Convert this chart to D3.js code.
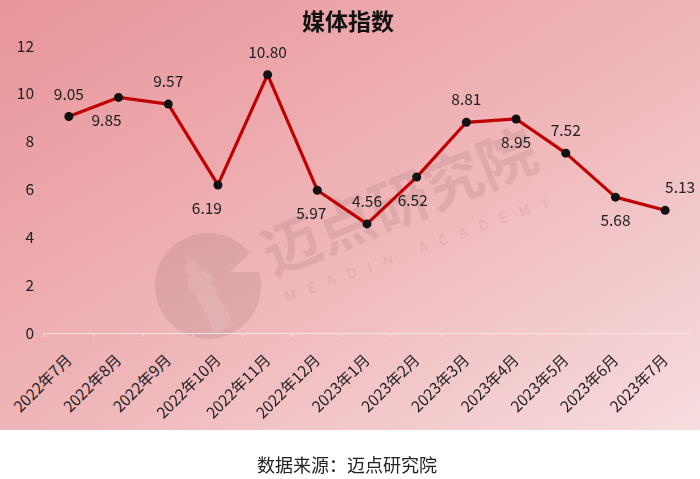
<!DOCTYPE html>
<html><head><meta charset="utf-8">
<script src="https://cdn.jsdelivr.net/npm/d3@7"></script>
<style>body{margin:0;background:#fff}svg{display:block}</style>
</head><body><svg id="c" width="700" height="479"></svg>
<script>
const title = "媒体指数";
const source = "数据来源：迈点研究院";
const categories = ["2022年7月","2022年8月","2022年9月","2022年10月","2022年11月","2022年12月","2023年1月","2023年2月","2023年3月","2023年4月","2023年5月","2023年6月","2023年7月"];
const values = [9.05,9.85,9.57,6.19,10.80,5.97,4.56,6.52,8.81,8.95,7.52,5.68,5.13];
const labelPlacement = ["above","below","above","below","above","below","above","below","above","below","above","below","above"];
const yTicks = [0,2,4,6,8,10,12];

const svg = d3.select("#c");
const font = "'Noto Sans CJK SC','Noto Sans',sans-serif";
const defs = svg.append("defs");
const g1 = defs.append("linearGradient").attr("id","bg").attr("x1","0").attr("y1","0").attr("x2","1").attr("y2","1");
g1.append("stop").attr("offset","0%").attr("stop-color","#e8959a");
g1.append("stop").attr("offset","55%").attr("stop-color","#f0b8bb");
g1.append("stop").attr("offset","100%").attr("stop-color","#f6dcde");
svg.append("rect").attr("x",0).attr("y",0).attr("width",700).attr("height",430).attr("fill","url(#bg)");

const x = d3.scaleBand().domain(categories).range([44,690]);
const y = d3.scaleLinear().domain([0,12]).range([333,46]);

// watermark
const wm = svg.append("g").attr("opacity",0.11).attr("fill","#5a3a3a");
const cx0 = 208, cy0 = 286, r0 = 53;
const toXY = a => [cx0 + r0*Math.sin(a*Math.PI/180), cy0 - r0*Math.cos(a*Math.PI/180)];
const p = d3.path();
const s = toXY(75);
p.moveTo(s[0], s[1]);
p.arc(cx0, cy0, r0, (75-90)*Math.PI/180, (52+360-90)*Math.PI/180);
p.lineTo(230, 272);
p.closePath();
wm.append("path").attr("d", p.toString());
const lh = svg.append("g").attr("opacity",0.10).attr("fill","#ffffff").attr("transform","translate(204,290) rotate(-28)");
lh.append("rect").attr("x",-10).attr("y",-18).attr("width",20).attr("height",62);
lh.append("rect").attr("x",-13).attr("y",-12).attr("width",26).attr("height",8);
lh.append("rect").attr("x",-6).attr("y",-32).attr("width",12).attr("height",14);
lh.append("rect").attr("x",-1.5).attr("y",-40).attr("width",3).attr("height",8);
wm.append("text").attr("transform","translate(273,276) rotate(-22)")
  .attr("font-family",font).attr("font-size",58).attr("font-weight",700).text("迈点研究院");
wm.append("text").attr("transform","translate(287,302) rotate(-20)")
  .attr("font-family",font).attr("font-size",14).attr("letter-spacing",12.5).text("MEADIN ACADEMY");

// axis
const xAxis = svg.append("g").attr("transform","translate(0,333)")
  .call(d3.axisBottom(x).tickSize(0).tickFormat(""));
xAxis.select(".domain").attr("stroke","#f6e4e4").attr("stroke-width",1.2);
const bounds = categories.map(c => x(c)).concat([x.range()[1]]);
svg.append("g").selectAll("line").data(bounds).join("line")
  .attr("x1",d=>d).attr("x2",d=>d).attr("y1",333).attr("y2",337).attr("stroke","#f6e4e4");

svg.append("g").selectAll("text").data(categories).join("text")
  .attr("transform",d=>`translate(${x(d)+x.bandwidth()/2+4},${361}) rotate(-45)`)
  .attr("text-anchor","end").attr("font-family",font).attr("font-size",15.5).attr("fill","#222").text(d=>d);

svg.append("g").selectAll("text").data(yTicks).join("text")
  .attr("x",34).attr("y",d=>y(d)+5.5).attr("text-anchor","end")
  .attr("font-family",font).attr("font-size",15.5).attr("fill","#222").text(d=>d);

const line = d3.line().x((d,i)=>x(categories[i])+x.bandwidth()/2).y(d=>y(d));
svg.append("path").datum(values).attr("d",line).attr("fill","none").attr("stroke","#c00000").attr("stroke-width",3.2).attr("stroke-linejoin","round");
svg.append("g").selectAll("circle").data(values).join("circle")
  .attr("cx",(d,i)=>x(categories[i])+x.bandwidth()/2).attr("cy",d=>y(d)).attr("r",4.5).attr("fill","#111");

const dxs = {3:-11,1:-12,5:-6,7:-4,12:15};
svg.append("g").selectAll("text").data(values).join("text")
  .attr("x",(d,i)=>x(categories[i])+x.bandwidth()/2+(dxs[i]||0))
  .attr("y",(d,i)=>labelPlacement[i]==="above"? y(d)-17 : y(d)+29)
  .attr("text-anchor","middle").attr("font-family",font).attr("font-size",15.5).attr("fill","#222")
  .text(d=>d.toFixed(2));

svg.append("text").attr("x",348).attr("y",30).attr("text-anchor","middle")
  .attr("font-family",font).attr("font-size",23).attr("font-weight",700).attr("fill","#111").text(title);
svg.append("text").attr("x",347).attr("y",472).attr("text-anchor","middle")
  .attr("font-family",font).attr("font-size",18).attr("fill","#222").text(source);
</script></body></html>
